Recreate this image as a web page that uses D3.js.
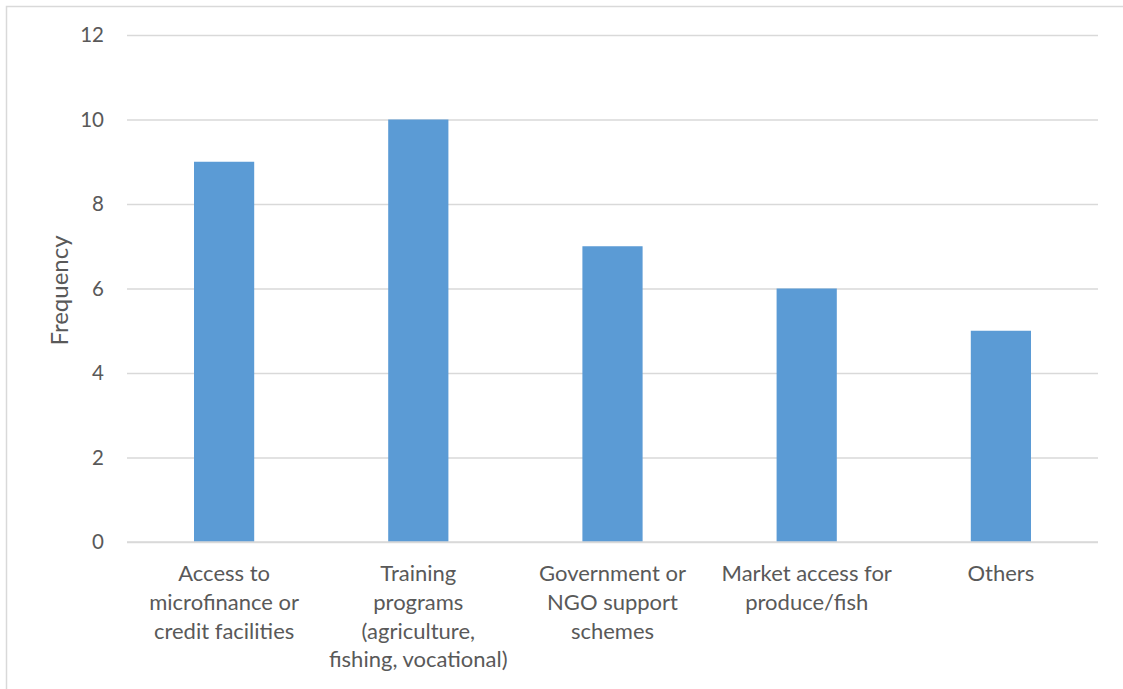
<!DOCTYPE html>
<html>
<head>
<meta charset="utf-8">
<script src="https://cdn.jsdelivr.net/npm/d3@7"></script>
<style>
  html, body { margin: 0; padding: 0; background: #fff; }
  svg { display: block; }
  text { font-family: Lato, "Open Sans", sans-serif; fill: #595959; }
</style>
</head>
<body>
<svg id="chart" width="1123" height="689"></svg>
<script>
// Support needs reported by respondents
const categories = [
  ["Access to", "microfinance or", "credit facilities"],
  ["Training", "programs", "(agriculture,", "fishing, vocational)"],
  ["Government or", "NGO support", "schemes"],
  ["Market access for", "produce/fish"],
  ["Others"]
];
const frequency = [9, 10, 7, 6, 5];
const yTicks = [0, 2, 4, 6, 8, 10, 12];
const yTitle = "Frequency";

const svg = d3.select("#chart");
const W = 1123, H = 689;
const plot = { left: 127, right: 1098, top: 35, bottom: 542 };

// chart frame
svg.append("rect")
  .attr("x", 6.5).attr("y", 6.5)
  .attr("width", W + 10).attr("height", H + 10)
  .attr("fill", "#fff").attr("stroke", "#d9d9d9").attr("stroke-width", 1.5);

const keys = categories.map((d, i) => i);
const x = d3.scaleBand()
  .domain(keys)
  .range([plot.left, plot.right])
  .paddingInner(0.69)
  .paddingOuter(0.345);

const y = d3.scaleLinear().domain([0, 12]).range([plot.bottom, plot.top]);

// gridlines
const yAxis = d3.axisLeft(y)
  .tickValues(yTicks)
  .tickSize(-(plot.right - plot.left))
  .tickPadding(23)
  .tickFormat(d3.format("d"));

const gy = svg.append("g")
  .attr("transform", `translate(${plot.left},0)`)
  .call(yAxis);
gy.select(".domain").remove();
gy.selectAll(".tick line").attr("stroke", "#d9d9d9").attr("stroke-width", 1.3);
gy.selectAll(".tick text")
  .attr("font-size", 20.5)
  .attr("fill", "#595959")
  .style("font-family", "Lato, 'Open Sans', sans-serif");

// bars
svg.append("g").selectAll("rect")
  .data(frequency)
  .join("rect")
  .attr("x", (d, i) => x(i))
  .attr("width", x.bandwidth())
  .attr("y", d => y(d))
  .attr("height", d => y(0) - y(d))
  .attr("fill", "#5b9bd5");

// baseline
svg.append("line")
  .attr("x1", plot.left).attr("x2", plot.right)
  .attr("y1", y(0)).attr("y2", y(0))
  .attr("stroke", "#d9d9d9").attr("stroke-width", 1.5);

// category labels
const xAxis = d3.axisBottom(x).tickSize(0).tickFormat("");
const gx = svg.append("g")
  .attr("transform", `translate(0,${plot.bottom})`)
  .call(xAxis);
gx.select(".domain").remove();
gx.selectAll(".tick").each(function(i) {
  const t = d3.select(this).append("text")
    .attr("text-anchor", "middle")
    .attr("font-size", 22)
    .attr("fill", "#595959");
  categories[i].forEach((line, k) => {
    t.append("tspan").attr("x", 0).attr("y", 39 + k * 28.8).text(line);
  });
});

// y-axis title
svg.append("text")
  .attr("transform", `translate(68,${(plot.top + plot.bottom) / 2 + 2}) rotate(-90)`)
  .attr("text-anchor", "middle")
  .attr("font-size", 24)
  .text(yTitle);
</script>
</body>
</html>
